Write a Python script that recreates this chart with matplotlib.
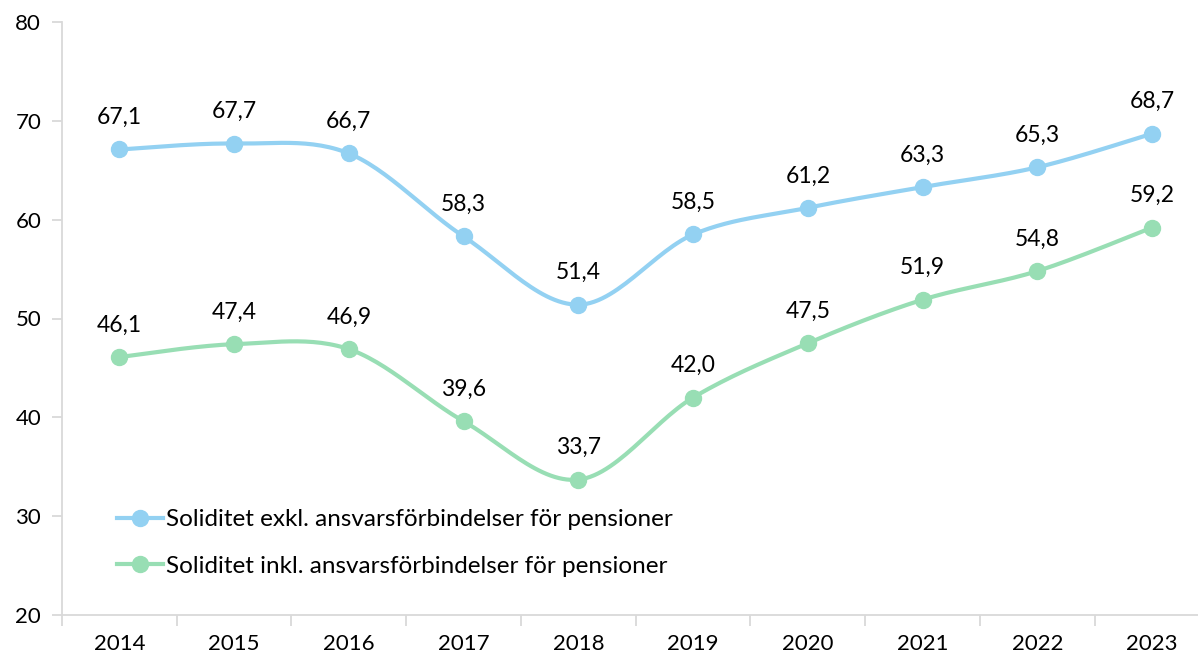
import numpy as np
import matplotlib.pyplot as plt
from matplotlib.ticker import FixedLocator

years = ['2014', '2015', '2016', '2017', '2018', '2019', '2020', '2021', '2022', '2023']
exkl = [67.1, 67.7, 66.7, 58.3, 51.4, 58.5, 61.2, 63.3, 65.3, 68.7]
inkl = [46.1, 47.4, 46.9, 39.6, 33.7, 42.0, 47.5, 51.9, 54.8, 59.2]

lbl_exkl = 'Soliditet exkl. ansvarsförbindelser för pensioner'
lbl_inkl = 'Soliditet inkl. ansvarsförbindelser för pensioner'

c_exkl = '#93D1F2'
c_inkl = '#98DEB4'


def smooth(xs, ys, n=30):
    # bezier-utjämning mellan punkterna (som Excels utjämnade linje)
    xs = np.asarray(xs, float)
    ys = np.asarray(ys, float)
    px = np.concatenate([[xs[0]], xs, [xs[-1]]])
    py = np.concatenate([[ys[0]], ys, [ys[-1]]])
    ox, oy = [], []
    t = np.linspace(0, 1, n)
    for i in range(1, len(px) - 2):
        p0 = np.array([px[i], py[i]])
        p3 = np.array([px[i + 1], py[i + 1]])
        p1 = p0 + (np.array([px[i + 1], py[i + 1]]) - np.array([px[i - 1], py[i - 1]])) / 6
        p2 = p3 - (np.array([px[i + 2], py[i + 2]]) - np.array([px[i], py[i]])) / 6
        b = ((1 - t) ** 3)[:, None] * p0 + (3 * (1 - t) ** 2 * t)[:, None] * p1 \
            + (3 * (1 - t) * t ** 2)[:, None] * p2 + (t ** 3)[:, None] * p3
        ox.extend(b[:, 0])
        oy.extend(b[:, 1])
    return ox, oy


plt.rcParams['font.family'] = ['Lato', 'DejaVu Sans']

fig = plt.figure(figsize=(11.98, 6.59), dpi=100)
ax = fig.add_axes([62 / 1198, 44 / 659, (1198 - 62) / 1198, 593 / 659])

x = np.arange(len(years))
for vals, col, lbl in [(exkl, c_exkl, lbl_exkl), (inkl, c_inkl, lbl_inkl)]:
    sx, sy = smooth(x, vals)
    ax.plot(sx, sy, color=col, lw=3, solid_capstyle='round', zorder=2)
    ax.plot(x, vals, 'o', color=col, ms=11.5, zorder=3)
    ax.plot([], [], '-o', color=col, lw=3, ms=11.5, label=lbl)
    for xi, v in zip(x, vals):
        ax.annotate(f'{v:.1f}'.replace('.', ','), (xi, v), xytext=(0, 23),
                    textcoords='offset points', ha='center', va='center', fontsize=16.5)

ax.set_ylim(20, 80)
ax.set_xlim(-0.5, 9.4)
ax.set_yticks(range(20, 81, 10))
ax.set_xticks(x)
ax.set_xticklabels(years)
ax.xaxis.set_minor_locator(FixedLocator(np.arange(-0.5, 10, 1)))

for s in ['top', 'right']:
    ax.spines[s].set_visible(False)
for s in ['left', 'bottom']:
    ax.spines[s].set_color('#D9D9D9')
    ax.spines[s].set_linewidth(1.3)

ax.tick_params(axis='y', direction='out', length=7, width=1.3, color='#D9D9D9',
               labelsize=16, pad=8)
ax.tick_params(axis='x', which='major', length=0, labelsize=16, pad=14)
ax.tick_params(axis='x', which='minor', direction='out', length=8, width=1.3, color='#D9D9D9')

ax.legend(loc='upper left', bbox_to_anchor=(0.04, 0.195), frameon=False, fontsize=17.5,
          handlelength=1.9, handletextpad=0.1, labelspacing=1.05, borderaxespad=0)

fig.savefig('out.png', dpi=100)
